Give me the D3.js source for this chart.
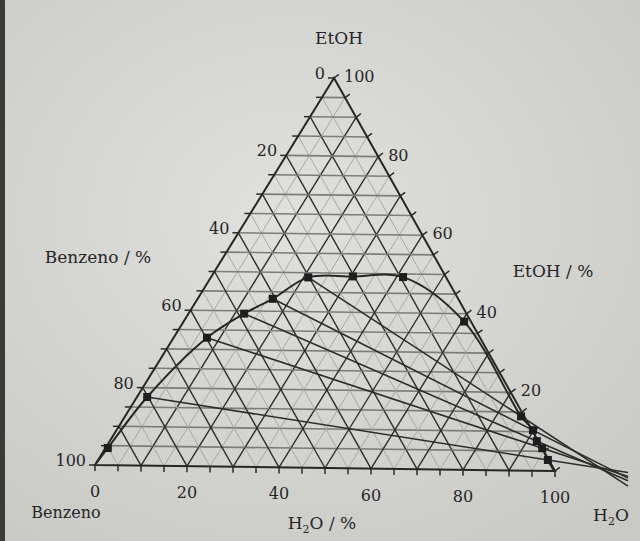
<!DOCTYPE html>
<html>
<head>
<meta charset="utf-8">
<script src="https://cdn.jsdelivr.net/npm/d3@7"></script>
<style>
  html, body { margin: 0; padding: 0; background: #d8d8d5; }
  svg { display: block; }
  text { font-family: "DejaVu Serif", "Liberation Serif", serif; fill: #262626; }
</style>
</head>
<body>
<div id="chart"></div>
<script>
// axis tick labels (percent)
const tickValues = [0, 20, 40, 60, 80, 100];

// binodal curve: EtOH % and H2O % (benzene is the rest)
const curveEtOH = [0.5, 4.4, 17.6, 33.0, 39.3, 43.2, 48.8, 49.2, 49.2, 38.0, 13.9, 10.4, 7.6, 5.8, 2.8, 0.3];
const curveH2O  = [0.0, 0.5,  2.2,  7.2, 12.0, 16.2, 21.0, 30.5, 41.4, 60.5, 85.4, 89.8, 92.1, 94.2, 97.0, 99.5];
const curveMarked = [false, true, true, true, true, true, true, true, true, true, true, true, true, true, true, false];

// tie lines: benzene-rich end -> water-rich end
const tieLeftEtOH  = [17.6, 33.0, 39.3, 43.2, 48.8];
const tieLeftH2O   = [2.2, 7.2, 12.0, 16.2, 21.0];
const tieRightEtOH = [2.8, 5.8, 7.6, 10.4, 13.9];
const tieRightH2O  = [97.0, 94.2, 92.1, 89.8, 85.4];

const width = 640, height = 541;

// ternary -> page: H2O runs along the base, EtOH goes up to the apex
const xScale = d3.scaleLinear().domain([0, 100]).range([95, 555]);   // H2O along base
const yScale = d3.scaleLinear().domain([0, 100]).range([465, 78]);   // EtOH height
const xLean = d3.scaleLinear().domain([0, 100]).range([0, 239]);     // apex offset
const yTilt = d3.scaleLinear().domain([0, 100]).range([0, 6]);       // base tilt

function pt(e, w) {
    return [xScale(w) + xLean(e), yScale(e) + yTilt(w)];
}

const svg = d3.select('#chart').append('svg')
    .attr('width', width)
    .attr('height', height);

// paper-like backdrop
const defs = svg.append('defs');
const grad = defs.append('radialGradient').attr('id', 'paper')
    .attr('cx', '45%').attr('cy', '40%').attr('r', '75%');
grad.append('stop').attr('offset', '0%').attr('stop-color', '#e0e0dd');
grad.append('stop').attr('offset', '100%').attr('stop-color', '#c9c9c6');
svg.append('rect').attr('width', width).attr('height', height).attr('fill', 'url(#paper)');
svg.append('rect').attr('x', 0).attr('y', 0).attr('width', 5).attr('height', height).attr('fill', '#3a3a3a');

const g = svg.append('g');

// grid
const steps = d3.range(5, 100, 5);
const gridLines = [];
steps.forEach((k) => {
    // constant EtOH (horizontal)
    gridLines.push({a: pt(k, 0), b: pt(k, 100 - k), major: false, horiz: true});
    // constant benzene
    gridLines.push({a: pt(0, 100 - k), b: pt(100 - k, 0), major: k % 10 === 0, horiz: false});
    // constant H2O
    gridLines.push({a: pt(0, k), b: pt(100 - k, k), major: k % 10 === 0, horiz: false});
});

g.selectAll('.grid')
    .data(gridLines)
    .enter().append('line')
    .attr('class', 'grid')
    .attr('x1', (d) => d.a[0]).attr('y1', (d) => d.a[1])
    .attr('x2', (d) => d.b[0]).attr('y2', (d) => d.b[1])
    .attr('stroke', (d) => d.horiz ? '#7c7c7a' : (d.major ? '#2e2e2e' : '#a2a2a0'))
    .attr('stroke-width', (d) => d.horiz ? 1.6 : (d.major ? 1.4 : 0.9));

// triangle frame
const corners = [pt(0, 0), pt(0, 100), pt(100, 0)];
g.append('path')
    .attr('d', 'M' + corners.join('L') + 'Z')
    .attr('fill', 'none')
    .attr('stroke', '#262626')
    .attr('stroke-width', 2);

// edge ticks every 5 %
const tickLen = 6;
const tickData = [];
d3.range(0, 101, 5).forEach((v) => {
    tickData.push({p: pt(100 - v, 0), dx: -tickLen, dy: 0});                  // left edge
    tickData.push({p: pt(v, 100 - v), dx: tickLen * 0.8, dy: -tickLen * 0.6}); // right edge
    tickData.push({p: pt(0, v), dx: 0, dy: tickLen});                          // base
});
g.selectAll('.tick')
    .data(tickData)
    .enter().append('line')
    .attr('class', 'tick')
    .attr('x1', (d) => d.p[0]).attr('y1', (d) => d.p[1])
    .attr('x2', (d) => d.p[0] + d.dx).attr('y2', (d) => d.p[1] + d.dy)
    .attr('stroke', '#2a2a2a')
    .attr('stroke-width', 1.5);

// tick labels
g.selectAll('.lab-left')
    .data(tickValues)
    .enter().append('text')
    .attr('class', 'lab-left')
    .attr('x', (d) => pt(100 - d, 0)[0] - 9)
    .attr('y', (d) => pt(100 - d, 0)[1] + 1)
    .attr('text-anchor', 'end')
    .attr('font-size', 16)
    .text((d) => d);

g.selectAll('.lab-right')
    .data(tickValues)
    .enter().append('text')
    .attr('class', 'lab-right')
    .attr('x', (d) => pt(d, 100 - d)[0] + 10)
    .attr('y', (d) => pt(d, 100 - d)[1] + 4)
    .attr('text-anchor', 'start')
    .attr('font-size', 16)
    .text((d) => d === 0 ? '' : d);

g.selectAll('.lab-base')
    .data(tickValues)
    .enter().append('text')
    .attr('class', 'lab-base')
    .attr('x', (d) => pt(0, d)[0])
    .attr('y', (d) => pt(0, d)[1] + 32)
    .attr('text-anchor', 'middle')
    .attr('font-size', 16)
    .text((d) => d);

// tie lines, drawn on past the water corner
const endX = 628;
const ties = tieLeftEtOH.map((e, i) => {
    const a = pt(e, tieLeftH2O[i]);
    const b = pt(tieRightEtOH[i], tieRightH2O[i]);
    const t = (endX - a[0]) / (b[0] - a[0]);
    return [a, [a[0] + t * (b[0] - a[0]), a[1] + t * (b[1] - a[1])]];
});
g.selectAll('.tie')
    .data(ties)
    .enter().append('line')
    .attr('class', 'tie')
    .attr('x1', (d) => d[0][0]).attr('y1', (d) => d[0][1])
    .attr('x2', (d) => d[1][0]).attr('y2', (d) => d[1][1])
    .attr('stroke', '#2c2c2c')
    .attr('stroke-width', 1.6);

// binodal curve
const curvePts = curveEtOH.map((e, i) => pt(e, curveH2O[i]));
g.append('path')
    .attr('d', d3.line().curve(d3.curveCatmullRom.alpha(0.5))(curvePts))
    .attr('fill', 'none')
    .attr('stroke', '#262626')
    .attr('stroke-width', 2);

const ms = 8;
g.selectAll('.mark')
    .data(curvePts.filter((d, i) => curveMarked[i]))
    .enter().append('rect')
    .attr('class', 'mark')
    .attr('x', (d) => d[0] - ms / 2)
    .attr('y', (d) => d[1] - ms / 2)
    .attr('width', ms).attr('height', ms)
    .attr('fill', '#1e1e1e');

// titles
svg.append('text').attr('x', 339).attr('y', 44).attr('text-anchor', 'middle')
    .attr('font-size', 17).text('EtOH');
svg.append('text').attr('x', 98).attr('y', 263).attr('text-anchor', 'middle')
    .attr('font-size', 17).text('Benzeno / %');
svg.append('text').attr('x', 553).attr('y', 277).attr('text-anchor', 'middle')
    .attr('font-size', 17).text('EtOH / %');
svg.append('text').attr('x', 66).attr('y', 518).attr('text-anchor', 'middle')
    .attr('font-size', 16).text('Benzeno');

const h2oAxis = svg.append('text').attr('x', 322).attr('y', 529).attr('text-anchor', 'middle')
    .attr('font-size', 17);
h2oAxis.append('tspan').text('H');
h2oAxis.append('tspan').attr('font-size', 11).attr('dy', 4).text('2');
h2oAxis.append('tspan').attr('dy', -4).text('O / %');

const h2oCorner = svg.append('text').attr('x', 611).attr('y', 521).attr('text-anchor', 'middle')
    .attr('font-size', 17);
h2oCorner.append('tspan').text('H');
h2oCorner.append('tspan').attr('font-size', 11).attr('dy', 4).text('2');
h2oCorner.append('tspan').attr('dy', -4).text('O');
</script>
</body>
</html>
